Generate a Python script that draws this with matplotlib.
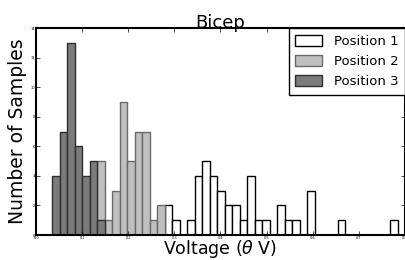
import numpy as np
import matplotlib
matplotlib.use('Agg')
import matplotlib.pyplot as plt

# histogram bins (48 equal bins)
bin_start = 0.002
bin_width = 0.0163
n_bins = 48

# counts per bin, each series starts at a given bin index
pos1_first_bin = 17
pos1_counts = [2, 1, 0, 1, 4, 5, 4, 3, 2, 2, 1, 4, 1, 1, 0, 2, 1, 1, 0, 3,
               0, 0, 0, 1, 0, 0, 0, 0, 0, 0, 1]
pos2_first_bin = 8
pos2_counts = [5, 1, 3, 9, 5, 7, 7, 1, 2]
pos3_first_bin = 2
pos3_counts = [4, 7, 13, 6, 4, 5, 1]

edges = bin_start + bin_width * np.arange(n_bins + 1)

fig = plt.figure(figsize=(4.06, 2.6), dpi=100)
ax = fig.add_axes([0.089, 0.096, 0.908, 0.796])

series = [
    (pos1_first_bin, pos1_counts, 'white', 'black', 'Position 1'),
    (pos2_first_bin, pos2_counts, '#c0c0c0', '#6a6a6a', 'Position 2'),
    (pos3_first_bin, pos3_counts, '#7b7b7b', '#2e2e2e', 'Position 3'),
]
for first, counts, fc, ec, lab in series:
    left = edges[first:first + len(counts)]
    ax.bar(left, counts, width=bin_width, align='edge', facecolor=fc,
           edgecolor=ec, linewidth=1.0, label=lab)

ax.set_xlim(0, 0.8)
ax.set_ylim(0, 14)
ax.set_xticks(np.arange(0, 0.81, 0.1))
ax.set_yticks(np.arange(0, 15, 2))
ax.tick_params(direction='in', top=True, right=True, length=3, width=0.5,
               labelsize=2.5, pad=0.5)
for sp in ax.spines.values():
    sp.set_linewidth(1.5)

ax.set_title('Bicep', fontsize=13, pad=0)
ax.set_xlabel(r'Voltage ($\theta$ V)', fontsize=12.5, labelpad=-1)
ax.set_ylabel('Number of Samples', fontsize=13.5, labelpad=3)

leg = ax.legend(loc='upper right', fontsize=9.5, fancybox=False,
                framealpha=1, edgecolor='black', borderaxespad=0,
                handlelength=2.0, handleheight=0.9, handletextpad=0.9,
                labelspacing=0.55, borderpad=0.5)
leg.get_frame().set_linewidth(1.0)

fig.savefig('out.png', dpi=100)
